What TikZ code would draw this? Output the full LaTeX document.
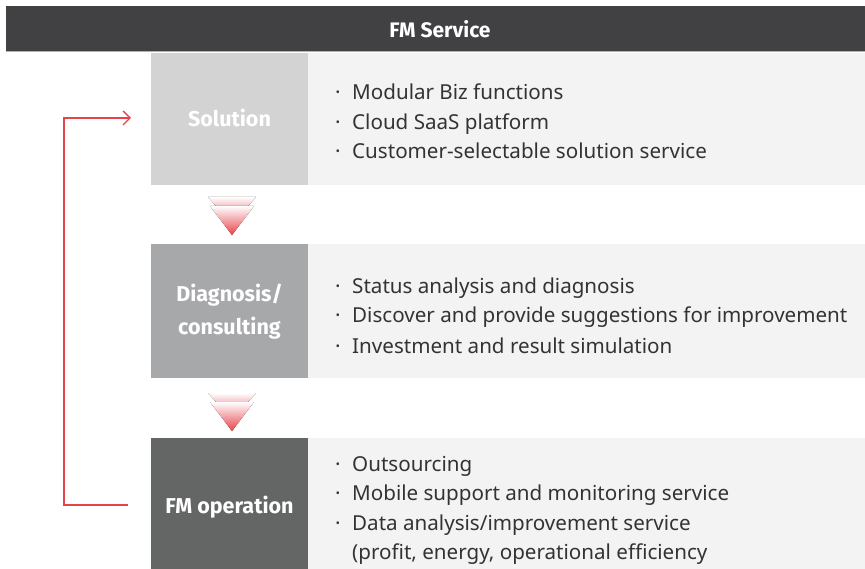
\documentclass[tikz,border=0pt]{standalone}
\usepackage{fontspec}
\setmainfont{Noto Sans}
\newfontfamily\labfont{Fira Sans}
\usetikzlibrary{arrows.meta}
\definecolor{hdr}{HTML}{414143}
\definecolor{panel}{HTML}{F3F3F3}
\definecolor{lab1}{HTML}{D3D3D3}
\definecolor{lab2}{HTML}{A7A8AA}
\definecolor{lab3}{HTML}{646665}
\definecolor{redl}{HTML}{E8424A}
\definecolor{txt}{HTML}{333333}
\begin{document}
\begin{tikzpicture}[x=1pt,y=-1pt,
  labeltext/.style={text=white,font=\labfont\fontsize{21.5}{33}\selectfont\bfseries,align=center},
  item/.style={anchor=base west,text=txt,font=\fontsize{20.6}{24}\selectfont,inner sep=0pt},
  dotitem/.style={anchor=base west,text=txt,font=\fontsize{20.6}{24}\selectfont\bfseries,inner sep=0pt},
  loop/.style={draw=redl,line width=1.4pt},
  chev/.style={top color=white,bottom color=redl,draw=none}]
\useasboundingbox (0,0) rectangle (865,569);
% header
\fill[hdr] (6,6) rectangle (865,52);
\draw[gray!60,line width=1pt] (6,51.5) -- (865,51.5);
\node[text=white,font=\labfont\fontsize{21}{24}\selectfont\bfseries] (title) at (440,29) {FM Service};
% rows
\fill[panel] (308,53) rectangle (865,185);
\fill[lab1] (151,53) rectangle (308,185);
\node[labeltext] (sol) at (229.5,118) {Solution};
\fill[panel] (308,244) rectangle (865,378);
\fill[lab2] (151,244) rectangle (308,378);
\node[labeltext] (diag) at (229.5,312) {Diagnosis/\\consulting};
\fill[panel] (308,438) rectangle (865,569);
\fill[lab3] (151,438) rectangle (308,569);
\node[labeltext] (fmop) at (229.5,507) {FM operation};
% items
\foreach \y/\t in {100/{Modular Biz functions},130/{Cloud SaaS platform},159/{Customer-selectable solution service},
  294/{Status analysis and diagnosis},323/{Discover and provide suggestions for improvement},353/{Investment and result simulation},
  471/{Outsourcing},500.5/{Mobile support and monitoring service},530/{Data analysis/improvement service}}{
  \node[dotitem] at (335,\y) {·};
  \node[item] at (352,\y) {\t};
}
\node[item] (last) at (352,559.5) {(profit, energy, operational efficiency};
% chevrons
\foreach \yy in {197,393}{
  \fill[chev] (208,\yy) -- (256,\yy) -- (232,\yy+27) -- cycle;
  \fill[chev] (210,\yy+9) -- (254,\yy+9) -- (232,\yy+38) -- cycle;
}
% loop connector
\coordinate (s) at (128,505);
\coordinate (e) at (131,118);
\draw[loop,-{Straight Barb[length=7pt,width=14pt]}] (s) -- (64,505) -- (64,118) -- (e);
\end{tikzpicture}
\end{document}
